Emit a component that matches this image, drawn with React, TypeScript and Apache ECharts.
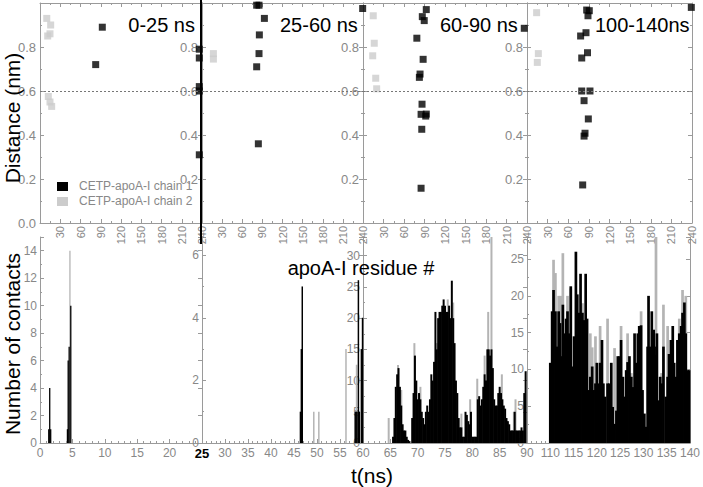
import React, { useEffect, useRef } from 'react';
import * as echarts from 'echarts';

const FONT = '"Liberation Sans", Arial, Helvetica, sans-serif';
const GREY_TXT = '#888888';
const AXIS = '#9a9a9a';
const BLACK = '#000000';
const LIGHT = '#cccccc';

const CHAIN1 = 'CETP-apoA-I chain 1';
const CHAIN2 = 'CETP-apoA-I chain 2';

const panelTitles = ['0-25 ns', '25-60 ns', '60-90 ns', '100-140ns'];

// ---- top panels: distance (nm) vs apoA-I residue # ----
const dist1_p1 = [[82.5, 0.72], [92.3, 0.89], [236, 0.79], [236, 0.75], [236, 0.62], [236, 0.6], [236, 0.31]];
const dist2_p1 = [[10, 0.93], [15.8, 0.9], [14.8, 0.86], [11.4, 0.85], [12.3, 0.575], [14.8, 0.55], [17.3, 0.53]];

const dist1_p2 = [[81.5, 0.99], [85, 0.99], [93, 0.93], [85.5, 0.855], [85, 0.77], [81.5, 0.71], [84, 0.36], [239.5, 0.975]];
const dist2_p2 = [[17, 0.77], [17, 0.745]];

const dist1_p3 = [[92.6, 0.97], [86.8, 0.938], [89.6, 0.92], [78.8, 0.84], [88, 0.744], [83.5, 0.677], [82.5, 0.662], [86.4, 0.54], [85, 0.494], [91.8, 0.486], [92.6, 0.495], [86, 0.426], [85, 0.158], [236, 0.885]];
const dist2_p3 = [[15, 0.942], [16.5, 0.817], [14.2, 0.76], [18.6, 0.658], [20, 0.61]];

const dist1_p4 = [[86.8, 0.968], [90.6, 0.965], [88.7, 0.942], [78, 0.85], [85.8, 0.865], [79.6, 0.75], [88, 0.774], [79.6, 0.6], [91.6, 0.6], [83, 0.556], [89.2, 0.473], [84.4, 0.408], [83, 0.395], [81, 0.173], [239, 0.98]];
const dist2_p4 = [[14, 0.956], [16.5, 0.77], [15, 0.73]];

const distanceCutoff = 0.6;

// ---- bottom panels: number of contacts vs t (ns) ----
const cont1_p1 = [[1.35, 1], [1.5, 4], [1.65, 1], [4.25, 1], [4.35, 6], [4.5, 7], [4.75, 10]];
const cont2_p1 = [[4.2, 1], [4.62, 14]];

const cont1_p2 = [[46.4, 1], [46.6, 3], [46.8, 5], [58.3, 1], [58.5, 1], [58.7, 1], [59.0, 5.2], [59.2, 1], [59.65, 3], [59.9, 4]];
const cont2_p2 = [[49.3, 1], [50.4, 1], [56.3, 3], [58.6, 2.5]];

// panel 3 chain 1 sampled every 0.25 ns from 64.5 ns
const p3Start = 64.5;
const p3Step = 0.25;
const cont1_p3_values = [
  0, 0, 0, 0, 1, 4, 9, 11, 12, 9, 6, 3, 2, 2, 1, 0.5, 0.3, 0,
  4, 8, 14, 10, 7, 8, 7, 5, 4, 3, 5, 6, 5, 7, 11, 10, 13, 21, 15, 20,
  21, 21, 22, 23, 22, 21, 21, 22, 20, 26, 20, 16, 10, 8, 4, 2.5, 2.5, 1,
  1, 5, 4.5, 3.5, 3, 5, 1, 1, 1, 1, 7, 7.5, 6, 7, 9, 11, 10, 15,
  15, 14, 15, 12, 7, 6, 6, 8, 9, 8, 7, 6, 5.5, 4, 3.5, 3, 2, 2,
  2, 5, 2, 2, 2, 2, 2.5, 2, 8, 11.5
];
const cont2_p3 = [[64.7, 4], [66.4, 12.5], [67.0, 8.5], [69.4, 16], [70.5, 9], [73.5, 16], [75.5, 23], [76.5, 22.5], [78.0, 4.7], [79.6, 7], [80.9, 10.3], [82.25, 14], [82.9, 21], [83.5, 40], [85.4, 11], [87.6, 5], [87.9, 7]];

const cont1_p4 = [
  [110.0, 10.9], [110.4, 17.9], [110.7, 20.8], [111.1, 17.9], [111.4, 13.1], [111.8, 17.9], [112.1, 16.3], [112.3, 11.8],
  [112.7, 18.8], [113.0, 14.9], [113.4, 16.9], [113.7, 17.9], [114.1, 14.9], [114.4, 21.3], [114.8, 10.4], [115.1, 14.5],
  [115.5, 26], [115.8, 20.2], [116.2, 17.7], [116.5, 23], [116.9, 17.7], [117.2, 16.7], [117.6, 23], [117.9, 16.9],
  [118.3, 7.2], [118.6, 9], [119.0, 10.4], [119.3, 7.2], [119.7, 8.1], [120.0, 10.9], [120.4, 8.1], [120.7, 10.9],
  [121.1, 14], [121.4, 8.1], [121.8, 6.3], [122.0, 0], [122.3, 8.1], [122.7, 8.1], [123.1, 10.9], [123.4, 4.9],
  [123.8, 2.6], [124.2, 4.4], [124.5, 11.8], [124.9, 11.8], [125.2, 14], [125.6, 9], [125.9, 6.3], [126.3, 9.9],
  [126.6, 11], [127.0, 11.8], [127.4, 9], [127.7, 7.6], [128.1, 14.9], [128.4, 10.9], [128.8, 14.9], [129.1, 15.9],
  [129.5, 16], [129.8, 7.2], [130.2, 4], [130.6, 2.2], [130.9, 13.1], [131.1, 20], [131.5, 13.1], [131.8, 17.9],
  [132.2, 15.4], [132.4, 13.1], [132.7, 12], [132.9, 14.9], [133.3, 5.8], [133.6, 9], [133.9, 8.1], [134.3, 13.1],
  [134.8, 6.3], [135.2, 9], [135.5, 12.1], [135.9, 14], [136.3, 15.9], [136.6, 10.9], [137.0, 9], [137.3, 14],
  [137.7, 14.9], [138.1, 15.9], [138.4, 17.7], [138.8, 19.1], [139.1, 14.9], [139.5, 9.9], [139.8, 9.9]
];
const cont2_p4 = [
  [110.7, 24.9], [111.1, 23.1], [111.8, 20], [112.3, 20], [112.7, 25.8], [113.7, 20], [114.4, 21], [116.9, 19],
  [118.6, 14.9], [119.0, 13], [119.7, 14.5], [120.7, 15.9], [122.0, 6], [122.3, 16.9], [123.8, 12.9], [125.2, 15.9],
  [126.6, 14.9], [127.4, 9.5], [129.5, 17.9], [132.7, 40], [133.9, 9.5], [134.3, 18.8], [135.2, 15.9], [137.7, 16.9],
  [138.4, 20.8], [139.1, 20]
];

const timeRanges = [[0, 25], [25, 60], [60, 90], [105, 140]];

// ---- layout (pixels) ----
const gridLefts = [40, 202, 363, 527];
const gridWidths = [162, 161, 164, 165];
const topTop = 3;
const topHeight = 220;
const botTop = 237;
const botHeight = 206;
const botYMax = [15, 6.58, 33, 28];
const botYInterval = [2, 2, 5, 5];
const barWidths = [1.3, 1.5, 2.0, 2.7];

function buildOption() {
  const p3Data = cont1_p3_values.map((v, i) => [p3Start + i * p3Step, v]);
  const dist1 = [dist1_p1, dist1_p2, dist1_p3, dist1_p4];
  const dist2 = [dist2_p1, dist2_p2, dist2_p3, dist2_p4];
  const cont1 = [cont1_p1, cont1_p2, p3Data, cont1_p4];
  const cont2 = [cont2_p1, cont2_p2, cont2_p3, cont2_p4];

  const grid: any[] = [];
  const xAxis: any[] = [];
  const yAxis: any[] = [];
  const series: any[] = [];

  const tick = (len = 4) => ({ show: true, inside: true, length: len, lineStyle: { color: AXIS, width: 1 } });
  const minor = { show: true, splitNumber: 2, length: 2, lineStyle: { color: AXIS, width: 1 } };
  const line = (color = AXIS, width = 1) => ({ show: true, onZero: false, lineStyle: { color, width } });

  for (let i = 0; i < 4; i++) {
    grid.push({ left: gridLefts[i], top: topTop, width: gridWidths[i], height: topHeight, containLabel: false });
  }
  for (let i = 0; i < 4; i++) {
    grid.push({ left: gridLefts[i], top: botTop, width: gridWidths[i], height: botHeight, containLabel: false });
  }

  for (let i = 0; i < 4; i++) {
    const xb = xAxis.length;
    xAxis.push({
      type: 'value', gridIndex: i, position: 'bottom', min: 0, max: 240, interval: 30,
      axisLine: line(), axisTick: tick(4), minorTick: minor, splitLine: { show: false },
      axisLabel: { rotate: 90, margin: 3, fontSize: 11, color: GREY_TXT, fontFamily: FONT, showMinLabel: false, showMaxLabel: true }
    });
    xAxis.push({
      type: 'value', gridIndex: i, position: 'top', min: 0, max: 240, interval: 30,
      axisLine: line(), axisTick: tick(4), minorTick: minor, splitLine: { show: false }, axisLabel: { show: false }
    });
    const yl = yAxis.length;
    yAxis.push({
      type: 'value', gridIndex: i, position: 'left', min: 0, max: 1, interval: 0.2,
      axisLine: line(), axisTick: tick(4), minorTick: minor, splitLine: { show: false },
      axisLabel: {
        margin: 4, fontSize: 13, color: GREY_TXT, fontFamily: FONT,
        formatter: (v: number) => v.toFixed(1), showMinLabel: i === 0, showMaxLabel: false
      }
    });
    yAxis.push({
      type: 'value', gridIndex: i, position: 'right', min: 0, max: 1, interval: 0.2,
      axisLine: line(), axisTick: tick(4), minorTick: minor, splitLine: { show: false }, axisLabel: { show: false }
    });

    series.push({
      type: 'scatter', name: CHAIN2, xAxisIndex: xb, yAxisIndex: yl, symbol: 'rect', symbolSize: 7,
      itemStyle: { color: LIGHT }, data: dist2[i], z: 3
    });
    series.push({
      type: 'scatter', name: CHAIN1, xAxisIndex: xb, yAxisIndex: yl, symbol: 'rect', symbolSize: 7,
      itemStyle: { color: BLACK }, data: dist1[i], z: 4,
      markLine: {
        silent: true, symbol: 'none', label: { show: false },
        lineStyle: { type: [2, 2], color: '#777', width: 1 },
        data: [{ yAxis: distanceCutoff }]
      }
    });
  }

  for (let i = 0; i < 4; i++) {
    const g = 4 + i;
    const xb = xAxis.length;
    const [tmin, tmax] = timeRanges[i];
    xAxis.push({
      type: 'value', gridIndex: g, position: 'bottom', min: tmin, max: tmax, interval: 5,
      axisLine: line(), axisTick: tick(4), minorTick: { ...minor, splitNumber: 5 }, splitLine: { show: false },
      axisLabel: {
        margin: 4, fontSize: 12, color: GREY_TXT, fontFamily: FONT, showMinLabel: i === 0, showMaxLabel: true,
        formatter: (v: number) => (i === 0 && v === 25 ? '{b|25}' : String(v)),
        rich: { b: { fontWeight: 'bold', color: BLACK, fontSize: 13, fontFamily: FONT } }
      }
    });
    const yl = yAxis.length;
    const itv = botYInterval[i];
    yAxis.push({
      type: 'value', gridIndex: g, position: 'left', min: 0, max: botYMax[i], interval: itv,
      axisLine: line(), axisTick: tick(4), minorTick: minor, splitLine: { show: false },
      axisLabel: {
        margin: 3, fontSize: 12, color: GREY_TXT, fontFamily: FONT,
        formatter: (v: number) => (Math.abs(v / itv - Math.round(v / itv)) < 1e-6 ? String(v) : '')
      }
    });
    yAxis.push({
      type: 'value', gridIndex: g, position: 'right', min: 0, max: botYMax[i], interval: itv,
      axisLine: line(), axisTick: tick(4), splitLine: { show: false }, axisLabel: { show: false }
    });

    series.push({
      type: 'bar', name: CHAIN2, xAxisIndex: xb, yAxisIndex: yl, data: cont2[i],
      barWidth: barWidths[i], barGap: '-100%', itemStyle: { color: '#b4b4b4' }, clip: true, z: 2
    });
    series.push({
      type: 'bar', name: CHAIN1, xAxisIndex: xb, yAxisIndex: yl, data: cont1[i],
      barWidth: barWidths[i], barGap: '-100%', itemStyle: { color: BLACK }, clip: true, z: 3
    });
  }

  const titleX = [195, 280, 440, 595];
  const titleAlign = ['right', 'left', 'left', 'left'];
  const graphic: any[] = [];
  panelTitles.forEach((t, i) => {
    graphic.push({
      type: 'text', x: titleX[i], y: 25, z: 10,
      style: { text: t, fill: BLACK, fontSize: 20, fontFamily: FONT, textAlign: titleAlign[i], align: titleAlign[i], textVerticalAlign: 'middle', verticalAlign: 'middle' }
    });
  });
  const bigText = (text: string, x: number, y: number, rot: number, size = 21) => ({
    type: 'text', x, y, rotation: rot, z: 10,
    style: { text, fill: BLACK, fontSize: size, fontFamily: FONT, textAlign: 'center', align: 'center', textVerticalAlign: 'middle', verticalAlign: 'middle' }
  });
  graphic.push(bigText('Distance (nm)', 12, 118, Math.PI / 2));
  graphic.push(bigText('Number of contacts', 12, 344, Math.PI / 2));
  graphic.push(bigText('apoA-I residue #', 361, 268, 0, 20));
  graphic.push(bigText('t(ns)', 372, 475, 0, 21));

  graphic.push({ type: 'rect', shape: { x: 57, y: 182, width: 11, height: 9 }, style: { fill: BLACK }, z: 10 });
  graphic.push({ type: 'rect', shape: { x: 57, y: 197, width: 11, height: 9 }, style: { fill: LIGHT }, z: 10 });
  graphic.push({
    type: 'text', x: 79, y: 186, z: 10,
    style: { text: CHAIN1, fill: GREY_TXT, fontSize: 12, fontFamily: FONT, textAlign: 'left', align: 'left', textVerticalAlign: 'middle', verticalAlign: 'middle' }
  });
  graphic.push({
    type: 'text', x: 79, y: 201, z: 10,
    style: { text: CHAIN2, fill: GREY_TXT, fontSize: 12, fontFamily: FONT, textAlign: 'left', align: 'left', textVerticalAlign: 'middle', verticalAlign: 'middle' }
  });

  graphic.push({ type: 'line', shape: { x1: 201, y1: 0, x2: 201, y2: 244 }, style: { stroke: BLACK, lineWidth: 2 }, z: 10 });

  return {
    animation: false,
    backgroundColor: '#ffffff',
    textStyle: { fontFamily: FONT },
    grid, xAxis, yAxis, series, graphic
  };
}

export default function App() {
  const ref = useRef<HTMLDivElement>(null);
  useEffect(() => {
    if (!ref.current) return;
    const chart = echarts.init(ref.current, null, { renderer: 'svg' });
    chart.setOption(buildOption() as any);
    return () => chart.dispose();
  }, []);
  return <div ref={ref} style={{ position: 'absolute', left: 0, top: 0, width: 703, height: 487 }} />;
}
